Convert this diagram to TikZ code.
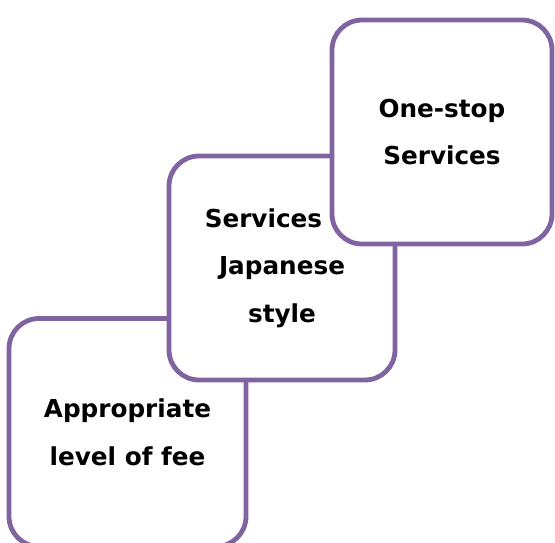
\documentclass[tikz,border=0pt]{standalone}
\usepackage{fontspec}
\setmainfont{DejaVu Sans}
\usepackage{tikz}
\usetikzlibrary{positioning}
\definecolor{boxpurple}{HTML}{8064A2}

\begin{document}
\begin{tikzpicture}[x=1pt,y=-1pt,
  stepcard/.style={draw=boxpurple,line width=4.8pt,fill=white,rounded corners=30pt,
    minimum width=226pt,minimum height=224pt,align=center,
    font=\bfseries\fontsize{24.7}{47.5}\selectfont}]
\useasboundingbox (0,0) rectangle (555,542);
% staircase of cards, lowest first
\node[stepcard,minimum width=237pt,minimum height=228pt] (fee) at (127.5,432.5) {Appropriate\\level of fee};
\node[stepcard] (style) at (282,268) {Services at\\Japanese\\style};
\node[stepcard,minimum width=220pt] (onestop) at (442,132) {One-stop\\Services};
\end{tikzpicture}
\end{document}
